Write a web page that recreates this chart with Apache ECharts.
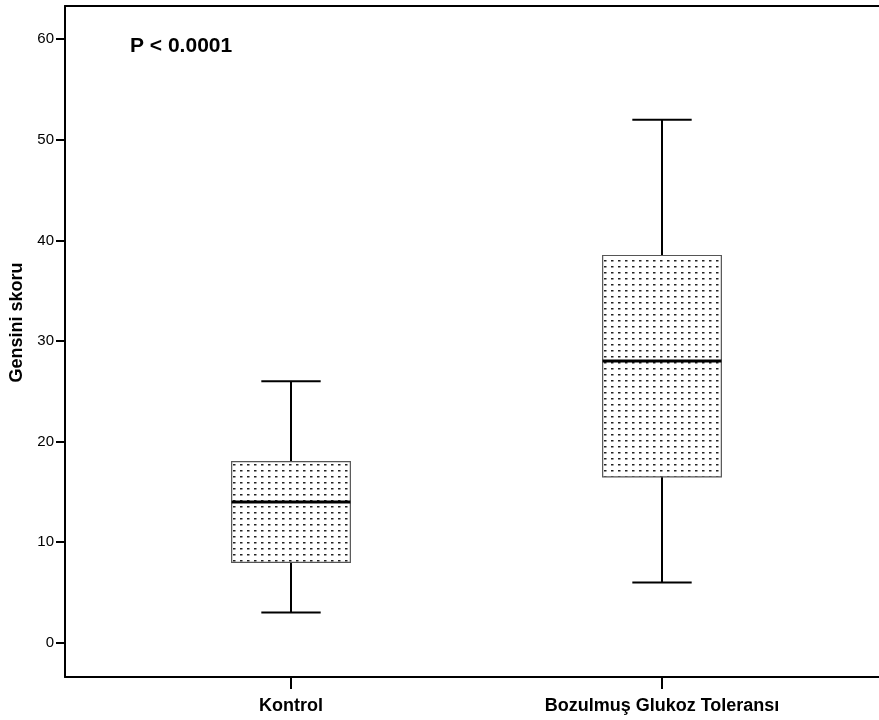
<!DOCTYPE html>
<html>
<head>
<meta charset="utf-8">
<script src="https://cdn.jsdelivr.net/npm/echarts@6/dist/echarts.min.js"></script>
<style>html,body{margin:0;padding:0;background:#fff;}#c{width:879px;height:720px;}</style>
</head>
<body>
<div id="c"></div>
<script>
const categories = ['Kontrol', 'Bozulmuş Glukoz Toleransı'];
const whiskerLow = [3, 6];
const q1 = [8, 16.5];
const median = [14, 28];
const q3 = [18, 38.5];
const whiskerHigh = [26, 52];
const yTicks = [0, 10, 20, 30, 40, 50, 60];
const yMin = -3.4, yMax = 63.3;
const pLabel = 'P < 0.0001';
const yName = 'Gensini skoru';

const tile = document.createElement('canvas');
tile.width = 7; tile.height = 6;
const tctx = tile.getContext('2d');
tctx.fillStyle = '#222';
tctx.fillRect(2, 2, 2.5, 1.5);

const boxData = categories.map((c, i) => [i, whiskerLow[i], q1[i], median[i], q3[i], whiskerHigh[i]]);

const chart = echarts.init(document.getElementById('c'));
const FONT = 'Liberation Sans, Arial, sans-serif';
const axisLineStyle = { show: true, onZero: false, lineStyle: { color: '#000', width: 2 } };
chart.setOption({
  animation: false,
  backgroundColor: '#fff',
  title: {
    text: pLabel, left: 130, top: 36, padding: 0,
    textStyle: { fontFamily: FONT, fontSize: 21, fontWeight: 'bold', color: '#000' }
  },
  grid: [
    { left: 65, right: 0, top: 6, bottom: 43 },
    { left: 105.5, right: 31.5, top: 6, bottom: 43 }
  ],
  xAxis: [
    { gridIndex: 0, type: 'value', position: 'bottom', min: 0, max: 1,
      axisLine: axisLineStyle,
      axisTick: { show: false }, axisLabel: { show: false }, splitLine: { show: false } },
    { gridIndex: 0, type: 'value', position: 'top', min: 0, max: 1,
      axisLine: axisLineStyle,
      axisTick: { show: false }, axisLabel: { show: false }, splitLine: { show: false } },
    { gridIndex: 1, type: 'category', data: categories, position: 'bottom',
      axisLine: { show: false, onZero: false },
      axisTick: { show: true, alignWithLabel: true, length: 12, lineStyle: { color: '#000', width: 2 } },
      axisLabel: { margin: 20, fontFamily: FONT, fontSize: 18, fontWeight: 'bold', color: '#000' },
      splitLine: { show: false } }
  ],
  yAxis: [
    { gridIndex: 0, type: 'value', min: yMin, max: yMax,
      axisLine: axisLineStyle,
      axisTick: { show: true, length: 9, customValues: yTicks, lineStyle: { color: '#000', width: 2 } },
      axisLabel: { customValues: yTicks, margin: 11, fontFamily: FONT, fontSize: 15, color: '#000' },
      splitLine: { show: false },
      name: yName, nameLocation: 'middle', nameGap: 37, nameRotate: 90,
      nameTextStyle: { fontFamily: FONT, fontSize: 18, fontWeight: 'bold', color: '#000', padding: [0, 0, 0, 38] } },
    { gridIndex: 1, type: 'value', min: yMin, max: yMax, show: false, splitLine: { show: false } }
  ],
  series: [{
    type: 'custom',
    xAxisIndex: 2, yAxisIndex: 1,
    data: boxData,
    encode: { x: 0, y: [1, 2, 3, 4, 5] },
    renderItem: function (params, api) {
      const xi = api.value(0);
      const band = api.size([1, 0])[0];
      const bw = band * 0.32;
      const cw = bw / 2;
      const pLow = api.coord([xi, api.value(1)]);
      const pQ1 = api.coord([xi, api.value(2)]);
      const pMed = api.coord([xi, api.value(3)]);
      const pQ3 = api.coord([xi, api.value(4)]);
      const pHigh = api.coord([xi, api.value(5)]);
      const cx = pMed[0];
      const lineStyle = { stroke: '#000', lineWidth: 2 };
      return {
        type: 'group',
        children: [
          { type: 'line', shape: { x1: cx, y1: pHigh[1], x2: cx, y2: pQ3[1] }, style: lineStyle },
          { type: 'line', shape: { x1: cx, y1: pQ1[1], x2: cx, y2: pLow[1] }, style: lineStyle },
          { type: 'line', shape: { x1: cx - cw / 2, y1: pHigh[1], x2: cx + cw / 2, y2: pHigh[1] }, style: lineStyle },
          { type: 'line', shape: { x1: cx - cw / 2, y1: pLow[1], x2: cx + cw / 2, y2: pLow[1] }, style: lineStyle },
          { type: 'rect', shape: { x: cx - bw / 2, y: pQ3[1], width: bw, height: pQ1[1] - pQ3[1] },
            style: { fill: { image: tile, repeat: 'repeat' }, stroke: '#555', lineWidth: 1.2 } },
          { type: 'line', shape: { x1: cx - bw / 2, y1: pMed[1], x2: cx + bw / 2, y2: pMed[1] }, style: { stroke: '#000', lineWidth: 3 } }
        ]
      };
    }
  }]
});
</script>
</body>
</html>
